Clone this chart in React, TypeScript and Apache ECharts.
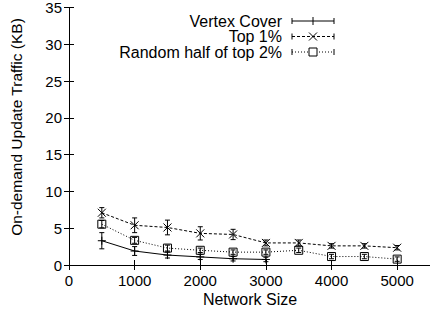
import React, { useEffect, useRef } from "react";
import * as echarts from "echarts";

const sizes = [500, 1000, 1500, 2000, 2500, 3000, 3500, 4000, 4500, 5000];
const vcSizes = [500, 1000, 1500, 2000, 2500, 3000];
const vcValues = [3.3, 1.9, 1.35, 1.1, 0.85, 0.75];
const vcErrors = [1.1, 0.6, 0.4, 0.35, 0.3, 0.3];
const top1Values = [7.1, 5.4, 5.1, 4.3, 4.15, 3.0, 3.0, 2.6, 2.6, 2.35];
const top1Errors = [0.7, 1.0, 1.0, 0.9, 0.7, 0.4, 0.4, 0.3, 0.3, 0.3];
const randValues = [5.55, 3.35, 2.3, 2.0, 1.75, 1.75, 2.0, 1.15, 1.15, 0.8];
const randErrors = [0.5, 0.4, 0.4, 0.3, 0.3, 0.3, 0.3, 0.3, 0.3, 0.3];
const seriesNames = ["Vertex Cover", "Top 1%", "Random half of top 2%"];

const FONT = "Liberation Sans, Arial, Helvetica, sans-serif";
const PLUS = "path://M0,5L10,5M5,0L5,10";
const CROSS = "path://M0,0L10,10M10,0L0,10";

function errorSeries(xs: number[], ys: number[], errs: number[]) {
  return {
    type: "custom",
    silent: true,
    z: 1,
    data: xs.map((x, i) => [x, ys[i] - errs[i], ys[i] + errs[i]]),
    renderItem: (params: any, api: any) => {
      const lo = api.coord([api.value(0), api.value(1)]);
      const hi = api.coord([api.value(0), api.value(2)]);
      const c = 2.5;
      const st = { stroke: "#000", lineWidth: 1 };
      return {
        type: "group",
        children: [
          { type: "line", shape: { x1: lo[0], y1: lo[1], x2: hi[0], y2: hi[1] }, style: st },
          { type: "line", shape: { x1: lo[0] - c, y1: lo[1], x2: lo[0] + c, y2: lo[1] }, style: st },
          { type: "line", shape: { x1: hi[0] - c, y1: hi[1], x2: hi[0] + c, y2: hi[1] }, style: st },
        ],
      };
    },
  };
}

function legendRow(i: number, y: number, dash: any, marker: any) {
  const x1 = 292, x2 = 334, xm = 313;
  return [
    {
      type: "text",
      x: 282,
      y,
      style: { text: seriesNames[i], font: `16px ${FONT}`, fill: "#000", align: "right", verticalAlign: "middle" },
    },
    { type: "line", shape: { x1, y1: y, x2, y2: y }, style: { stroke: "#000", lineWidth: 1, lineDash: dash } },
    { type: "line", shape: { x1, y1: y - 3, x2: x1, y2: y + 3 }, style: { stroke: "#000", lineWidth: 1 } },
    { type: "line", shape: { x1: x2, y1: y - 3, x2, y2: y + 3 }, style: { stroke: "#000", lineWidth: 1 } },
    marker(xm, y),
  ];
}

export default function App() {
  const ref = useRef<HTMLDivElement>(null);
  useEffect(() => {
    if (!ref.current) return;
    const chart = echarts.init(ref.current, null, { renderer: "svg" });
    const axisText = { color: "#000", fontSize: 15, fontFamily: FONT };
    const tickStyle = { show: true, inside: true, length: 5, lineStyle: { color: "#000", width: 1 } };
    const lineStyleAxis = { show: true, lineStyle: { color: "#000", width: 1 } };
    const option: any = {
      animation: false,
      backgroundColor: "#fff",
      grid: { left: 69, top: 7.5, right: -3, bottom: 52 },
      xAxis: [
        {
          type: "value",
          min: 0,
          max: 5500,
          interval: 1000,
          position: "bottom",
          axisLine: lineStyleAxis,
          axisTick: tickStyle,
          splitLine: { show: false },
          axisLabel: { ...axisText, margin: 8, showMaxLabel: false, formatter: (v: number) => String(v) },
        },
        {
          type: "value",
          min: 0,
          max: 5500,
          interval: 1000,
          position: "top",
          axisLine: lineStyleAxis,
          axisTick: tickStyle,
          splitLine: { show: false },
          axisLabel: { show: false },
        },
      ],
      yAxis: [
        {
          type: "value",
          min: 0,
          max: 35,
          interval: 5,
          position: "left",
          axisLine: lineStyleAxis,
          axisTick: tickStyle,
          splitLine: { show: false },
          axisLabel: { ...axisText, margin: 7 },
        },
        {
          type: "value",
          min: 0,
          max: 35,
          interval: 5,
          position: "right",
          axisLine: lineStyleAxis,
          axisTick: tickStyle,
          splitLine: { show: false },
          axisLabel: { show: false },
        },
      ],
      series: [
        errorSeries(vcSizes, vcValues, vcErrors),
        errorSeries(sizes, top1Values, top1Errors),
        errorSeries(sizes, randValues, randErrors),
        {
          name: seriesNames[0],
          type: "line",
          data: vcSizes.map((x, i) => [x, vcValues[i]]),
          symbol: PLUS,
          symbolSize: 8,
          showAllSymbol: true,
          lineStyle: { color: "#000", width: 1, type: "solid" },
          itemStyle: { color: "none", borderColor: "#000", borderWidth: 1 },
          z: 3,
        },
        {
          name: seriesNames[1],
          type: "line",
          data: sizes.map((x, i) => [x, top1Values[i]]),
          symbol: CROSS,
          symbolSize: 8,
          showAllSymbol: true,
          lineStyle: { color: "#000", width: 1, type: [3, 2] },
          itemStyle: { color: "none", borderColor: "#000", borderWidth: 1 },
          z: 3,
        },
        {
          name: seriesNames[2],
          type: "line",
          data: sizes.map((x, i) => [x, randValues[i]]),
          symbol: "rect",
          symbolSize: 8,
          showAllSymbol: true,
          lineStyle: { color: "#000", width: 1, type: [1, 2] },
          itemStyle: { color: "none", borderColor: "#000", borderWidth: 1 },
          z: 3,
        },
      ],
      graphic: [
        {
          type: "text",
          x: 16,
          y: 127,
          rotation: Math.PI / 2,
          style: {
            text: "On-demand Update Traffic (KB)",
            font: `15.5px ${FONT}`,
            fill: "#000",
            align: "center",
            verticalAlign: "middle",
          },
        },
        {
          type: "text",
          x: 250,
          y: 299,
          style: { text: "Network Size", font: `16px ${FONT}`, fill: "#000", align: "center", verticalAlign: "middle" },
        },
        ...legendRow(0, 21, null, (x: number, y: number) => ({
          type: "polyline",
          shape: { points: [[x, y - 4], [x, y + 4]] },
          style: { stroke: "#000", lineWidth: 1, fill: "none" },
        })),
        ...legendRow(1, 36.5, [3, 2], (x: number, y: number) => ({
          type: "group",
          children: [
            { type: "line", shape: { x1: x - 4, y1: y - 4, x2: x + 4, y2: y + 4 }, style: { stroke: "#000", lineWidth: 1 } },
            { type: "line", shape: { x1: x + 4, y1: y - 4, x2: x - 4, y2: y + 4 }, style: { stroke: "#000", lineWidth: 1 } },
          ],
        })),
        ...legendRow(2, 52, [1, 2], (x: number, y: number) => ({
          type: "rect",
          shape: { x: x - 4, y: y - 4, width: 8, height: 8 },
          style: { stroke: "#000", lineWidth: 1, fill: "#fff" },
        })),
      ],
    };
    chart.setOption(option);
    return () => chart.dispose();
  }, []);
  return (
    <div
      ref={ref}
      style={{ position: "fixed", left: 0, top: 0, width: 430, height: 317, background: "#fff" }}
    />
  );
}
